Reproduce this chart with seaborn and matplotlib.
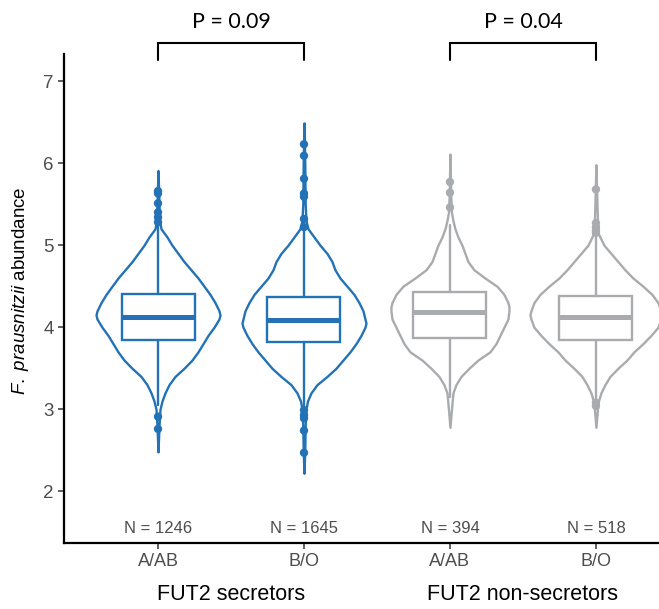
import numpy as np
import pandas as pd
import matplotlib
matplotlib.use('Agg')
import matplotlib.pyplot as plt
import matplotlib.transforms as mtransforms
import seaborn as sns

# groups, left to right
groups = ['sec_AAB', 'sec_BO', 'non_AAB', 'non_BO']
tick_labels = ['A/AB', 'B/O', 'A/AB', 'B/O']
n_labels = ['N = 1246', 'N = 1645', 'N = 394', 'N = 518']
status = ['secretor', 'secretor', 'non-secretor', 'non-secretor']
status_labels = ['FUT2 secretors', 'FUT2 non-secretors']
p_labels = ['P = 0.09', 'P = 0.04']

# box summaries
medians = [4.12, 4.085, 4.18, 4.13]
q1 = [3.84, 3.82, 3.87, 3.85]
q3 = [4.41, 4.37, 4.43, 4.38]
whisk_lo = [3.05, 3.00, 3.15, 3.12]
whisk_hi = [5.25, 5.20, 5.24, 5.12]

# outlying points
fliers_sec_aab = [5.66, 5.63, 5.51, 5.40, 5.34, 5.28, 2.91, 2.76]
fliers_sec_bo = [6.23, 6.09, 5.81, 5.63, 5.59, 5.32, 5.22, 2.99, 2.93, 2.89, 2.74, 2.47]
fliers_non_aab = [5.77, 5.64, 5.46]
fliers_non_bo = [5.68, 5.27, 5.22, 5.18, 5.15, 3.08, 3.04]

# violin outlines: value grid and (relative) density
vy_sec_aab = [2.48, 2.8, 3.0, 3.1, 3.2, 3.3, 3.4, 3.5, 3.6, 3.7, 3.8, 3.9, 4.0, 4.1, 4.15,
              4.2, 4.3, 4.4, 4.5, 4.6, 4.7, 4.8, 4.9, 5.0, 5.1, 5.2, 5.3, 5.6, 5.91]
vd_sec_aab = [0, 1, 2, 4, 7, 11, 17, 26, 34, 40, 45, 50, 56, 61, 62,
              61, 57, 52, 46, 40, 33, 26, 20, 14, 9, 3, 1.5, 0.8, 0]
vy_sec_bo = [2.22, 2.5, 2.8, 3.0, 3.1, 3.2, 3.3, 3.4, 3.5, 3.6, 3.7, 3.8, 3.9, 4.0, 4.05, 4.1,
             4.2, 4.3, 4.4, 4.5, 4.6, 4.7, 4.8, 4.9, 5.0, 5.1, 5.2, 5.3, 5.5, 6.0, 6.49]
vd_sec_bo = [0, 0.8, 1.2, 2, 3.5, 7, 13, 23, 32, 39, 46, 52, 57, 61, 62, 61,
             59, 55, 50, 43, 36, 31, 28, 23, 16, 10, 4, 2, 1.2, 0.8, 0]
vy_non_aab = [2.78, 3.0, 3.2, 3.3, 3.4, 3.5, 3.6, 3.7, 3.8, 3.9, 4.0, 4.1, 4.2, 4.25,
              4.3, 4.4, 4.5, 4.6, 4.7, 4.8, 4.9, 5.0, 5.1, 5.2, 5.3, 5.4, 5.6, 6.11]
vd_non_aab = [0, 1.5, 3, 6, 11, 19, 28, 40, 46, 50, 54, 58, 59, 59,
              58, 54, 47, 35, 24, 18, 15, 12, 8, 5, 3, 1.5, 0.8, 0]
vy_non_bo = [2.78, 3.0, 3.1, 3.2, 3.3, 3.4, 3.5, 3.6, 3.7, 3.8, 3.9, 4.0, 4.1, 4.15,
             4.2, 4.3, 4.4, 4.5, 4.6, 4.7, 4.8, 4.9, 5.0, 5.15, 5.3, 5.6, 5.98]
vd_non_bo = [0, 1.5, 2.5, 5, 9, 14, 22, 31, 38, 47, 55, 62, 65, 66,
             65, 62, 56, 47, 37, 29, 22, 15, 8, 2, 1.5, 0.8, 0]

violin_y = [vy_sec_aab, vy_sec_bo, vy_non_aab, vy_non_bo]
violin_d = [vd_sec_aab, vd_sec_bo, vd_non_aab, vd_non_bo]
fliers = [fliers_sec_aab, fliers_sec_bo, fliers_non_aab, fliers_non_bo]

palette = {'secretor': '#2372B5', 'non-secretor': '#A9ABAE'}
colors = [palette[s] for s in status]
density_to_width = 1 / 146.0  # density units -> category axis units

sns.set_style('ticks')
plt.rcParams['font.family'] = ['Liberation Sans', 'DejaVu Sans']
plt.rcParams['mathtext.fontset'] = 'custom'
plt.rcParams['mathtext.it'] = 'Liberation Sans:italic'
plt.rcParams['mathtext.rm'] = 'Liberation Sans'

fig = plt.figure(figsize=(6.59, 6.09), dpi=100)
ax = fig.add_axes([64 / 659, 66 / 609, 595 / 659, 489 / 609])

positions = np.arange(len(groups))

# violins
for i in range(len(groups)):
    y = np.array(violin_y[i])
    d = np.array(violin_d[i], dtype=float)
    stats = [{'coords': y, 'vals': d, 'mean': float(np.mean(y)),
              'median': medians[i], 'min': y.min(), 'max': y.max()}]
    parts = ax.violin(stats, positions=[i], widths=[2 * d.max() * density_to_width],
                      showmeans=False, showextrema=False, showmedians=False)
    for body in parts['bodies']:
        body.set_facecolor('white')
        body.set_edgecolor(colors[i])
        body.set_linewidth(1.7)
        body.set_alpha(1)
        body.set_zorder(1)

# boxes
for i in range(len(groups)):
    bstats = [{'med': medians[i], 'q1': q1[i], 'q3': q3[i],
               'whislo': whisk_lo[i], 'whishi': whisk_hi[i], 'fliers': []}]
    ax.bxp(bstats, positions=[i], widths=0.5, showcaps=False, showfliers=False,
           patch_artist=True, manage_ticks=False,
           boxprops=dict(facecolor='white', edgecolor=colors[i], linewidth=1.7),
           medianprops=dict(color=colors[i], linewidth=3.6, solid_capstyle='butt'),
           whiskerprops=dict(color=colors[i], linewidth=1.7),
           zorder=2)

# outlying points through seaborn
flier_df = pd.DataFrame({
    'group': np.repeat(groups, [len(f) for f in fliers]),
    'value': np.concatenate(fliers),
    'status': np.repeat(status, [len(f) for f in fliers]),
})
sns.stripplot(data=flier_df, x='group', y='value', hue='status', order=groups,
              palette=palette, jitter=False, size=6, linewidth=0,
              legend=False, ax=ax, zorder=3)

ax.set_xlim(-0.644, 3.432)
ax.set_ylim(1.37, 7.33)
ax.set_xticks(positions)
ax.set_xticklabels(tick_labels)
ax.set_yticks([2, 3, 4, 5, 6, 7])
ax.set_xlabel('')
ax.set_ylabel(r'$\it{F.\ prausnitzii}$ abundance', fontsize=13.5, color='black')
ax.yaxis.set_label_coords(-0.055, 0.515)

ax.tick_params(axis='both', colors='#333333', width=1.1, length=4.2,
               labelcolor='#4D4D4D', pad=3)
ax.tick_params(axis='x', labelsize=13)
ax.tick_params(axis='y', labelsize=13.5)
for side in ['left', 'bottom']:
    ax.spines[side].set_linewidth(1.6)
    ax.spines[side].set_color('black')
sns.despine(ax=ax)

trans = mtransforms.blended_transform_factory(ax.transData, ax.transAxes)

# sample sizes
for i, lab in enumerate(n_labels):
    ax.text(i, 0.029, lab, transform=trans, ha='center', va='center',
            fontsize=12, color='#4D4D4D')

# secretor status labels
for j, lab in enumerate(status_labels):
    ax.text(2 * j + 0.5, -0.106, lab, transform=trans, ha='center', va='center',
            fontsize=15.5, color='black')

# significance brackets
for j, lab in enumerate(p_labels):
    x0, x1 = 2 * j, 2 * j + 1
    ax.plot([x0, x0, x1, x1], [0.988, 1.0225, 1.0225, 0.988], transform=trans,
            color='black', linewidth=1.5, clip_on=False, solid_joinstyle='miter')
    ax.text((x0 + x1) / 2, 1.065, lab, transform=trans, ha='center', va='center',
            fontsize=15.5, family=['Lato', 'DejaVu Sans'], color='black')

fig.savefig('out.png', dpi=100)
